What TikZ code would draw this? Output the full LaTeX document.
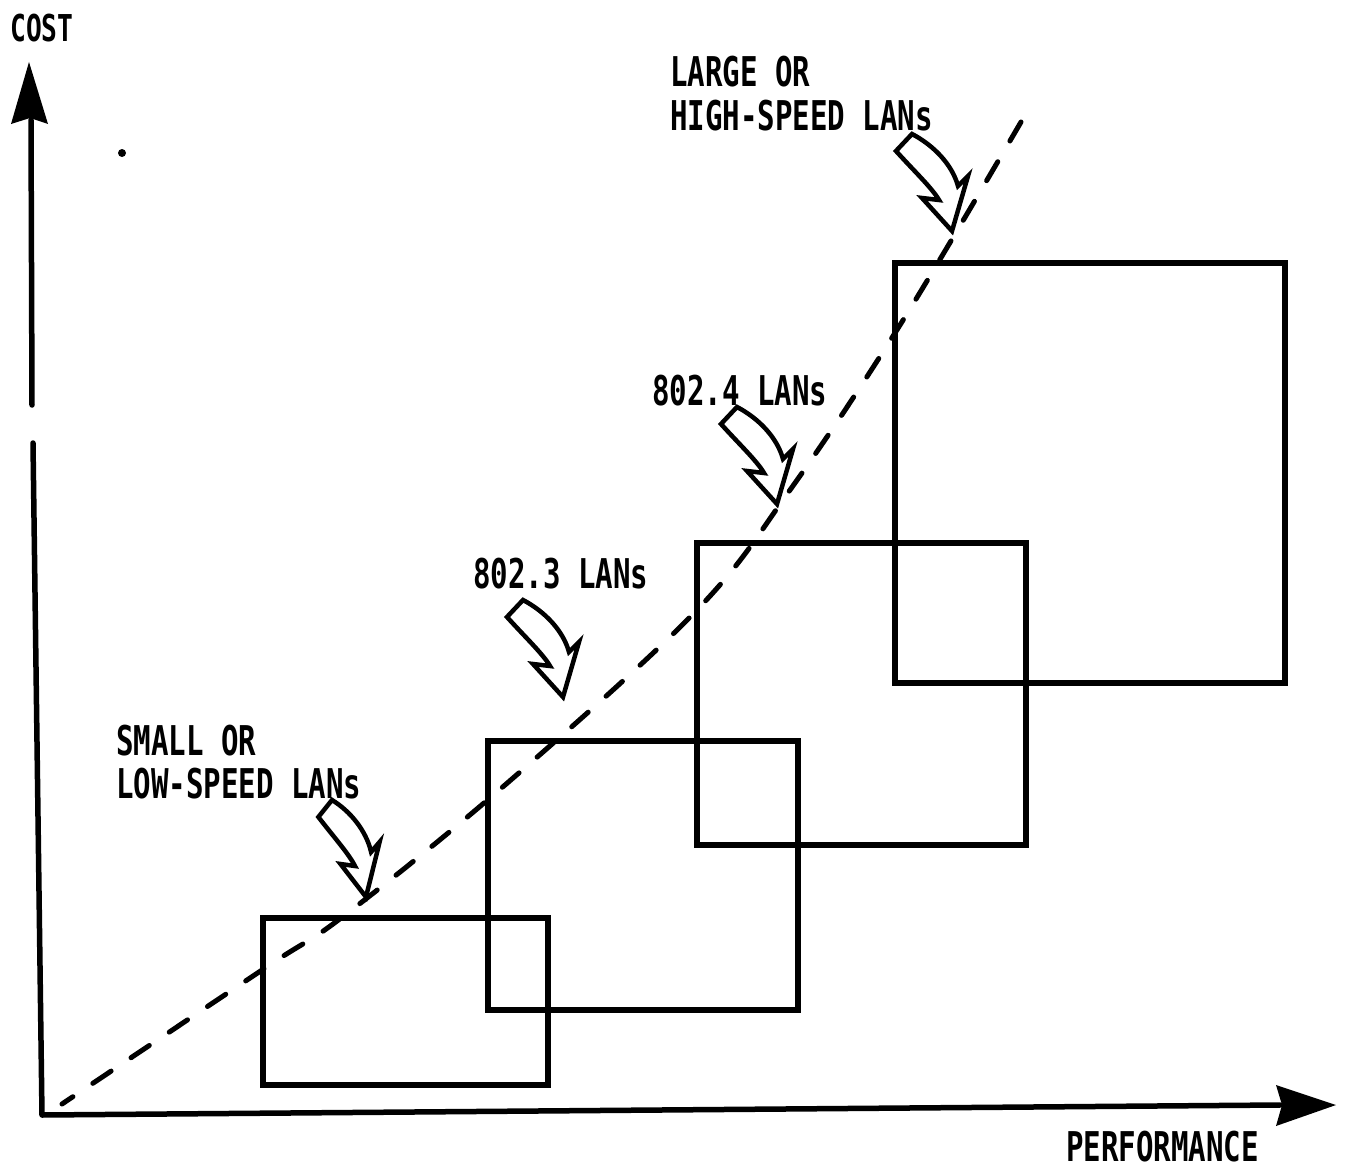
\documentclass[tikz,border=0pt]{standalone}
\usepackage{fontspec}
\newfontfamily\lblfont[FakeStretch=0.71]{DejaVu Sans Mono Bold}
\tikzset{
  lbl/.style={anchor=base west, inner sep=0pt, font=\lblfont\fontsize{41}{41}\selectfont},
  axisline/.style={line width=5.5pt, line cap=round, line join=round},
  lanbox/.style={line width=5.5pt, line join=miter},
  trend/.style={line width=5pt, line cap=round, dash pattern=on 22pt off 24pt},
  harrow/.pic={
    \draw[line width=4.5pt, line join=miter, fill=white]
      (0,0) -- (-16,17) .. controls (3,38) and (20,54) .. (27,66)
      -- (10,64) -- (40,97) -- (56,42) -- (46,52)
      .. controls (40,30) and (21,11) .. (0,0) -- cycle;
  }
}
\begin{document}
\begin{tikzpicture}[x=1pt,y=-1pt]
\useasboundingbox (0,0) rectangle (1345,1172);

% axes
\coordinate (ytop) at (29,62);
\coordinate (ybreakA) at (32,405);
\coordinate (ybreakB) at (33,443);
\coordinate (origin) at (42,1115);
\coordinate (xend) at (1280,1105);
\coordinate (xtip) at (1336,1105);
\draw[axisline] (31,120) -- (ybreakA);
\draw[axisline] (ybreakB) -- (origin) -- (xend);
\fill (ytop) -- (48,124) -- (30,118) -- (11,124) -- cycle;
\fill (xtip) -- (1276,1126) -- (1282,1105) -- (1276,1085) -- cycle;

% stray dot
\fill (122,153) circle [radius=4pt];

% trend line (drawn from the top down)
\draw[trend] plot[smooth, tension=0.6] coordinates {(1021,122) (900,325) (790,490) (695,612) (505,785) (345,915) (265,968) (62,1104)};

% boxes
\draw[lanbox] (263,918) rectangle (548,1085);
\draw[lanbox] (488,741) rectangle (798,1010);
\draw[lanbox] (697,543) rectangle (1026,845);
\draw[lanbox] (895,263) rectangle (1285,683);

% labels
\node[lbl, font=\lblfont\fontsize{37}{37}\selectfont] (cost) at (10,42) {COST};
\node[lbl] (large) at (670,87) {LARGE OR};
\node[lbl] (high) at (670,130) {HIGH-SPEED LANs};
\node[lbl] (l4) at (652,405) {802.4 LANs};
\node[lbl] (l3) at (473,588) {802.3 LANs};
\node[lbl] (small) at (116,755) {SMALL OR};
\node[lbl] (low) at (116,798) {LOW-SPEED LANs};
\node[lbl] (perf) at (1066,1161) {PERFORMANCE};

% hollow curved arrows
\pic at (912,134) {harrow};
\pic at (737,407) {harrow};
\pic at (523,600) {harrow};
\pic[xscale=0.85] at (332,800) {harrow};
\end{tikzpicture}
\end{document}
